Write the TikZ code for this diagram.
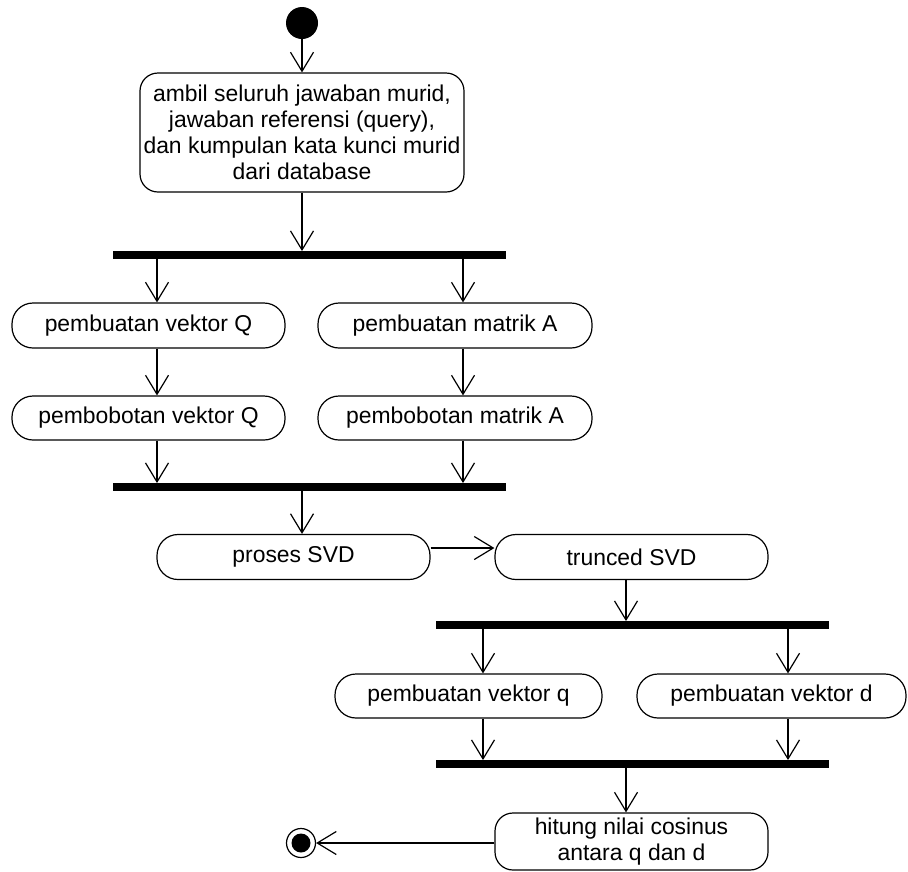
\documentclass[tikz,border=0pt]{standalone}
\usepackage{fontspec}
\setmainfont{Liberation Sans}
\usetikzlibrary{arrows.meta}
\begin{document}
\begin{tikzpicture}[x=1pt,y=-1pt,
  every node/.style={inner sep=0pt,font=\fontsize{22.9}{26}\selectfont},
  act/.style={draw,line width=1.2pt,rounded corners=21pt,minimum width=273pt,minimum height=45pt,align=center},
  bigact/.style={act,rounded corners=18pt},
  bar/.style={fill=black,minimum width=393pt,minimum height=7.5pt},
  flow/.style={line width=1.2pt,-{Straight Barb[length=19pt,width=23pt,line width=1.2pt]}}]
\useasboundingbox (0,0) rectangle (908,871);

% initial and final nodes
\node[circle,fill=black,minimum size=32pt] (start) at (302,23) {};
\node[circle,draw,line width=1.2pt,minimum size=29pt] (fin) at (301,843) {};
\fill (fin.center) circle (9.5pt);

% actions
\node[bigact,minimum width=324pt,minimum height=119pt] (ambil) at (302,132.5)
  {ambil seluruh jawaban murid,\\jawaban referensi (query),\\dan kumpulan kata kunci murid\\dari database};
\node[act] (vQ) at (148.5,325.5) {pembuatan vektor Q};
\node[act,minimum width=274pt] (mA) at (455,325.5) {pembuatan matrik A};
\node[act,minimum height=44pt] (bvQ) at (148.5,418) {pembobotan vektor Q};
\node[act,minimum width=274pt,minimum height=44pt] (bmA) at (455,418) {pembobotan matrik A};
\node[act] (svd) at (293.5,557) {proses SVD};
\node[act] (tsvd) at (631.5,557) {trunced SVD};
\node[act,minimum width=267pt,minimum height=44pt] (vq) at (468.5,696) {pembuatan vektor q};
\node[act,minimum width=269pt,minimum height=44pt] (vd) at (771.5,696) {pembuatan vektor d};
\node[bigact,minimum height=57pt] (cos) at (631.5,841.5) {hitung nilai cosinus\\antara q dan d};

% fork and join bars
\node[bar] (fork1) at (309.5,255) {};
\node[bar] (join1) at (309.5,487) {};
\node[bar] (fork2) at (632,625) {};
\node[bar] (join2) at (632,764) {};

% flow columns and rows
\coordinate (c0) at (302,0);
\coordinate (cL) at (157,0);
\coordinate (cR) at (463,0);
\coordinate (dL) at (483,0);
\coordinate (dR) at (788,0);
\coordinate (dC) at (626,0);
\coordinate (row) at (0,548);
\coordinate (endrow) at (0,843);

% connectors
\draw[flow] (start) -- (ambil.north -| start);
\draw[flow] (ambil.south -| c0) -- (fork1.north -| c0);
\draw[flow] (fork1.south -| cL) -- (vQ.north -| cL);
\draw[flow] (fork1.south -| cR) -- (mA.north -| cR);
\draw[flow] (vQ.south -| cL) -- (bvQ.north -| cL);
\draw[flow] (mA.south -| cR) -- (bmA.north -| cR);
\draw[flow] (bvQ.south -| cL) -- (join1.north -| cL);
\draw[flow] (bmA.south -| cR) -- (join1.north -| cR);
\draw[flow] (join1.south -| c0) -- (svd.north -| c0);
\draw[flow] (svd.east |- row) -- (tsvd.west |- row);
\draw[flow] (tsvd.south -| dC) -- (fork2.north -| dC);
\draw[flow] (fork2.south -| dL) -- (vq.north -| dL);
\draw[flow] (fork2.south -| dR) -- (vd.north -| dR);
\draw[flow] (vq.south -| dL) -- (join2.north -| dL);
\draw[flow] (vd.south -| dR) -- (join2.north -| dR);
\draw[flow] (join2.south -| dC) -- (cos.north -| dC);
\draw[flow] (cos.west |- endrow) -- (fin.east);
\end{tikzpicture}
\end{document}
